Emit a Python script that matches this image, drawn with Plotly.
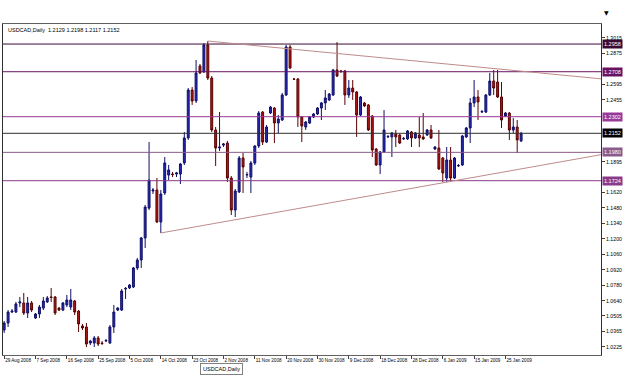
import plotly.graph_objects as go

# ---------------- data ----------------
opens = [1.0376,1.0439,1.0538,1.0538,1.0620,1.0620,1.0529,1.0620,1.0484,1.0520,
         1.0574,1.0629,1.0674,1.0674,1.0574,1.0556,1.0602,1.0583,1.0638,1.0547,
         1.0412,1.0403,1.0258,1.0258,1.0304,1.0258,1.0276,1.0258,1.0403,1.0556,
         1.0556,1.0746,1.0755,1.0764,1.0936,1.1008,1.1207,1.1477,1.1631,1.1640,
         1.1351,1.1613,1.1775,1.1784,1.1784,1.1784,1.1884,1.2110,1.2543,1.2444,
         1.2760,1.2706,1.2949,1.2651,1.2182,1.2019,1.2046,1.2064,1.1748,1.1459,
         1.1622,1.1929,1.1775,1.1757,1.1884,1.2037,1.2344,1.2073,1.2335,1.2380,
         1.2245,1.2272,1.2498,1.2931,1.2642,1.2642,1.2299,1.2209,1.2245,1.2299,
         1.2326,1.2380,1.2426,1.2453,1.2498,1.2724,1.2715,1.2715,1.2498,1.2561,
         1.2525,1.2317,1.2426,1.2408,1.2308,1.2010,1.1866,1.1983,1.2119,1.2119,
         1.2146,1.2137,1.2101,1.2101,1.2164,1.2110,1.2137,1.2119,1.2137,1.2182,
         1.2010,1.2019,1.1929,1.1748,1.1911,1.1748,1.1857,1.1866,1.2119,1.2200,
         1.2426,1.2480,1.2344,1.2344,1.2498,1.2624,1.2615,1.2480,1.2308,1.2335,
         1.2182,1.2209,1.2083]
highs = [1.0457,1.0556,1.0565,1.0629,1.0674,1.0710,1.0674,1.0638,1.0529,1.0602,
         1.0674,1.0683,1.0755,1.0683,1.0583,1.0629,1.0692,1.0746,1.0647,1.0556,
         1.0430,1.0439,1.0286,1.0322,1.0322,1.0276,1.0295,1.0421,1.0602,1.0583,
         1.0746,1.0764,1.0791,1.0945,1.1026,1.1216,1.1505,1.2073,1.1658,1.1748,
         1.1640,1.1938,1.1866,1.1803,1.1803,1.1884,1.2164,1.2561,1.2570,1.2814,
         1.2778,1.2967,1.2985,1.2669,1.2209,1.2344,1.2064,1.2083,1.1766,1.1649,
         1.1947,1.1974,1.1803,1.1902,1.2046,1.2353,1.2353,1.2227,1.2399,1.2389,
         1.2317,1.2516,1.2949,1.2949,1.2651,1.2651,1.2308,1.2263,1.2308,1.2335,
         1.2389,1.2435,1.2543,1.2516,1.2733,1.2976,1.2724,1.2724,1.2633,1.2633,
         1.2534,1.2489,1.2435,1.2417,1.2317,1.2019,1.1992,1.2362,1.2137,1.2164,
         1.2182,1.2146,1.2119,1.2182,1.2173,1.2164,1.2299,1.2335,1.2191,1.2227,
         1.2037,1.2182,1.1938,1.2028,1.2028,1.1938,1.1875,1.2137,1.2209,1.2471,
         1.2633,1.2543,1.2362,1.2507,1.2697,1.2724,1.2724,1.2615,1.2344,1.2344,
         1.2290,1.2272,1.2164]
lows  = [1.0349,1.0403,1.0529,1.0529,1.0583,1.0511,1.0484,1.0538,1.0475,1.0484,
         1.0556,1.0620,1.0629,1.0511,1.0547,1.0547,1.0583,1.0556,1.0511,1.0358,
         1.0376,1.0222,1.0240,1.0222,1.0231,1.0240,1.0267,1.0249,1.0349,1.0547,
         1.0547,1.0656,1.0746,1.0755,1.0918,1.0936,1.1116,1.1459,1.1604,1.1342,
         1.1252,1.1595,1.1730,1.1757,1.1757,1.1694,1.1866,1.2092,1.2408,1.2426,
         1.2687,1.2697,1.2633,1.2164,1.1857,1.1992,1.2028,1.1712,1.1414,1.1396,
         1.1613,1.1613,1.1748,1.1613,1.1866,1.2019,1.2046,1.2064,1.2326,1.2064,
         1.2155,1.2263,1.2489,1.2733,1.2633,1.2209,1.2073,1.2182,1.2236,1.2290,
         1.2317,1.2272,1.2362,1.2444,1.2489,1.2660,1.2697,1.2408,1.2471,1.2453,
         1.2119,1.2308,1.2389,1.2173,1.1938,1.1857,1.1784,1.1974,1.2110,1.1938,
         1.2028,1.2055,1.2092,1.2092,1.2028,1.2101,1.2028,1.2092,1.2128,1.2101,
         1.2001,1.1821,1.1712,1.1712,1.1712,1.1739,1.1848,1.1857,1.2110,1.2064,
         1.2389,1.2272,1.2335,1.2335,1.2489,1.2498,1.2471,1.2200,1.2299,1.2092,
         1.2155,1.1974,1.2073]
closes = [1.0439,1.0538,1.0547,1.0611,1.0629,1.0529,1.0620,1.0556,1.0520,1.0583,
          1.0638,1.0665,1.0670,1.0529,1.0556,1.0620,1.0647,1.0647,1.0538,1.0430,
          1.0394,1.0249,1.0276,1.0304,1.0249,1.0254,1.0281,1.0403,1.0538,1.0574,
          1.0728,1.0751,1.0782,1.0936,1.1008,1.1207,1.1486,1.1730,1.1640,1.1351,
          1.1604,1.1884,1.1821,1.1780,1.1794,1.1875,1.2110,1.2543,1.2444,1.2697,
          1.2697,1.2949,1.2651,1.2182,1.2019,1.2028,1.2055,1.1748,1.1459,1.1631,
          1.1929,1.1848,1.1780,1.1884,1.2037,1.2335,1.2073,1.2209,1.2389,1.2245,
          1.2281,1.2498,1.2931,1.2742,1.2640,1.2299,1.2218,1.2254,1.2299,1.2326,
          1.2380,1.2426,1.2471,1.2507,1.2724,1.2669,1.2710,1.2498,1.2561,1.2525,
          1.2317,1.2480,1.2399,1.2182,1.2001,1.1866,1.1983,1.2182,1.2123,1.2155,
          1.2119,1.2064,1.2105,1.2173,1.2110,1.2155,1.2110,1.2101,1.2182,1.2110,
          1.2028,1.1830,1.1794,1.1911,1.1748,1.1929,1.1861,1.2128,1.2200,1.2426,
          1.2480,1.2435,1.2349,1.2498,1.2624,1.2561,1.2480,1.2272,1.2335,1.2182,
          1.2209,1.2092,1.2152]

date_tick_bars = [0, 8, 16, 24, 32, 40, 48, 56, 64, 72, 80, 88, 96, 104, 112, 120, 128]
date_tick_labels = ["29 Aug 2008", "7 Sep 2008", "16 Sep 2008", "25 Sep 2008", "5 Oct 2008",
                    "14 Oct 2008", "23 Oct 2008", "2 Nov 2008", "11 Nov 2008", "20 Nov 2008",
                    "30 Nov 2008", "9 Dec 2008", "18 Dec 2008", "28 Dec 2008", "6 Jan 2009",
                    "15 Jan 2009", "25 Jan 2009"]

price_ticks = [1.0225, 1.0365, 1.0505, 1.0640, 1.0780, 1.0920, 1.1060, 1.1200, 1.1340,
               1.1480, 1.1620, 1.1895, 1.2455, 1.2595, 1.2875, 1.3015]

level_values = [1.2958, 1.2708, 1.2302, 1.1980, 1.1724]
level_labels = ["1.2958", "1.2708", "1.2302", "1.1980", "1.1724"]
level_colors = ["#3a0a34", "#6a1262", "#983a98", "#8a5a8a", "#8a3a8a"]

bid_value = 1.2152
bid_label = "1.2152"

trend_top_x = [52, 152.4]
trend_top_y = [1.2985, 1.2644]
trend_bot_x = [40, 152.4]
trend_bot_y = [1.1252, 1.1959]

title_text = "USDCAD,Daily  1.2129 1.2198 1.2117 1.2152"
tab_text = "USDCAD,Daily"

# ---------------- figure ----------------
bars = list(range(len(opens)))
FONT = "Liberation Sans"

fig = go.Figure()

for v, c in zip(level_values, level_colors):
    fig.add_trace(go.Scatter(x=[-5, 160], y=[v, v], mode="lines",
                             line=dict(color=c, width=1), hoverinfo="skip", showlegend=False))
fig.add_trace(go.Scatter(x=[-5, 160], y=[bid_value, bid_value], mode="lines",
                         line=dict(color="#303030", width=1), hoverinfo="skip", showlegend=False))

fig.add_trace(go.Scatter(x=trend_top_x, y=trend_top_y, mode="lines",
                         line=dict(color="#c08a8a", width=1), hoverinfo="skip", showlegend=False))
fig.add_trace(go.Scatter(x=trend_bot_x, y=trend_bot_y, mode="lines",
                         line=dict(color="#c08a8a", width=1), hoverinfo="skip", showlegend=False))

fig.add_trace(go.Candlestick(
    x=bars, open=opens, high=highs, low=lows, close=closes,
    increasing=dict(line=dict(color="#101068", width=1), fillcolor="#2828b4"),
    decreasing=dict(line=dict(color="#5a0000", width=1), fillcolor="#b01818"),
    whiskerwidth=0, showlegend=False))

annotations = []
for v, lab, c in zip(level_values, level_labels, level_colors):
    annotations.append(dict(xref="paper", yref="y", x=1, y=v, xanchor="left", yanchor="middle",
                            xshift=1, text=lab, showarrow=False, bgcolor=c,
                            font=dict(family=FONT, size=5.5, color="white"), borderpad=1))
annotations.append(dict(xref="paper", yref="y", x=1, y=bid_value, xanchor="left", yanchor="middle",
                        xshift=1, text=bid_label, showarrow=False, bgcolor="#000000",
                        font=dict(family=FONT, size=5.5, color="white"), borderpad=1))
annotations.append(dict(xref="paper", yref="paper", x=0, y=1, xanchor="left", yanchor="top",
                        xshift=3, yshift=-1, text=title_text, showarrow=False,
                        font=dict(family=FONT, size=5.5, color="black")))
annotations.append(dict(xref="paper", yref="paper", x=(200 - 3) / 598, y=-0.024,
                        xanchor="left", yanchor="top", text=tab_text, showarrow=False,
                        bgcolor="white", bordercolor="#808080", borderwidth=1, borderpad=2,
                        font=dict(family=FONT, size=5.5, color="black")))
annotations.append(dict(xref="paper", yref="paper", x=(606 - 3) / 598, y=1 + 12 / 331,
                        xanchor="center", yanchor="middle", text="▼", showarrow=False,
                        font=dict(family="DejaVu Sans", size=6, color="black")))

fig.update_layout(
    width=625, height=391,
    margin=dict(l=3, r=24, t=24, b=36),
    paper_bgcolor="white", plot_bgcolor="white",
    showlegend=False,
    annotations=annotations,
    xaxis=dict(range=[-0.3, 152.4], showgrid=False, zeroline=False, rangeslider=dict(visible=False),
               tickmode="array", tickvals=date_tick_bars, ticktext=date_tick_labels,
               ticks="outside", ticklen=3, tickcolor="#404040", tickangle=0,
               ticklabelposition="outside right",
               tickfont=dict(family=FONT, size=4.6, color="black"),
               showline=True, linecolor="#606060", linewidth=1, mirror=True),
    yaxis=dict(range=[1.0150, 1.3139], side="right", showgrid=False, zeroline=False,
               tickmode="array", tickvals=price_ticks, ticktext=[f"{v:.4f}" for v in price_ticks],
               ticks="outside", ticklen=3, tickcolor="#404040",
               tickfont=dict(family=FONT, size=5.2, color="black"),
               showline=True, linecolor="#303030", linewidth=1, mirror=True),
)

fig.write_html("out.html")
